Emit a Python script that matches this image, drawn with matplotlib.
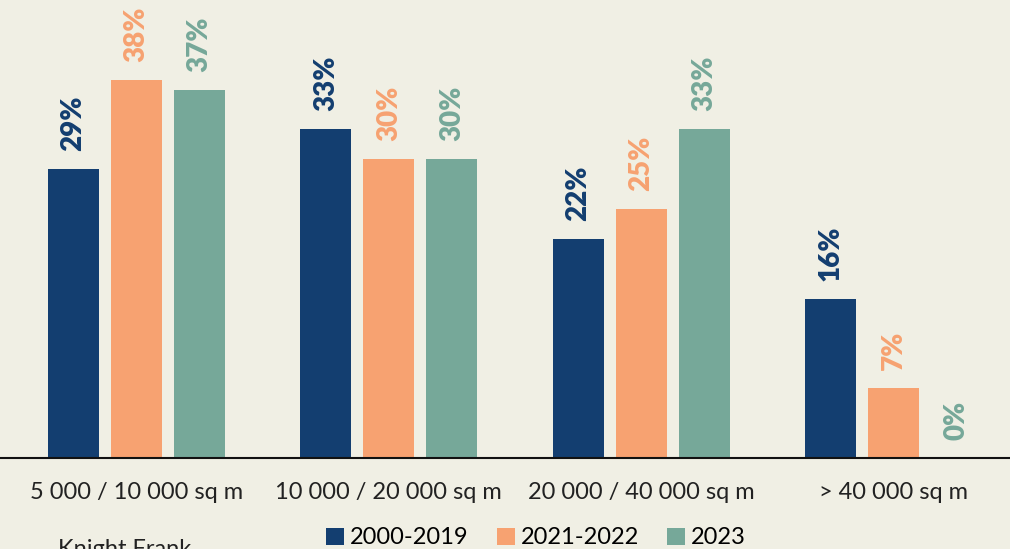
import numpy as np
import matplotlib.pyplot as plt
from matplotlib.patches import Patch

# Share of transactions by warehouse size
categories = ['5 000 / 10 000 sq m', '10 000 / 20 000 sq m', '20 000 / 40 000 sq m', '> 40 000 sq m']
series = ['2000-2019', '2021-2022', '2023']
values = {
    '2000-2019': [29, 33, 22, 16],
    '2021-2022': [38, 30, 25, 7],
    '2023': [37, 30, 33, 0],
}
colors = ['#133e70', '#f7a271', '#76a899']
bg = '#f0efe4'

fig = plt.figure(figsize=(10.10, 5.49), dpi=100, facecolor=bg)
ax = fig.add_axes([0, 91 / 549, 1, 458 / 549])
ax.set_facecolor(bg)

x = np.arange(len(categories))
width = 0.202
step = 0.2495
for i, (name, col) in enumerate(zip(series, colors)):
    pos = x + (i - 1) * step
    vals = values[name]
    ax.bar(pos, vals, width=width, color=col, edgecolor='none')
    for px, v in zip(pos, vals):
        ax.annotate(f'{v}%', (px, v), xytext=(0, 13), textcoords='offset points',
                    rotation=90, ha='center', va='bottom', color=col,
                    fontsize=20, fontweight='heavy', family='Lato')

ax.set_xlim(-0.54, 3.46)
ax.set_ylim(0, 46)
for s in ['top', 'right', 'left']:
    ax.spines[s].set_visible(False)
ax.spines['bottom'].set_color('#111111')
ax.spines['bottom'].set_linewidth(1.5)
ax.set_yticks([])
ax.set_xticks(x)
ax.set_xticklabels(categories, fontsize=17, family='Lato', color='#222222')
ax.tick_params(axis='x', length=0, pad=17)

handles = [Patch(facecolor=c, edgecolor='none') for c in colors]
fig.legend(handles, series, loc='center', bbox_to_anchor=(536 / 1010, 1 - 538 / 549),
           ncol=3, frameon=False, handlelength=0.75, handleheight=0.75,
           handletextpad=0.25, columnspacing=1.2, prop={'family': 'Lato', 'size': 17})

fig.text(58 / 1010, -0.02, 'Knight Frank', fontsize=17, family='Lato', color='#222222',
         va='bottom')

fig.savefig('out.png', facecolor=bg)
